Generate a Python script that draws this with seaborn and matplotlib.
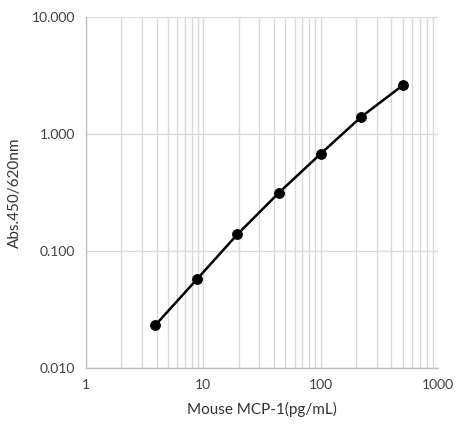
import matplotlib
matplotlib.use("Agg")
import matplotlib.pyplot as plt
import seaborn as sns
import pandas as pd
from matplotlib.ticker import FixedLocator, LogLocator, NullFormatter, FixedFormatter

concentration = [3.9, 8.8, 19.5, 44, 100, 222, 500]
absorbance = [0.0233, 0.0573, 0.139, 0.315, 0.679, 1.406, 2.61]
x_ticks = [1, 10, 100, 1000]
x_tick_labels = ["1", "10", "100", "1000"]
y_ticks = [0.01, 0.1, 1, 10]
y_tick_labels = ["0.010", "0.100", "1.000", "10.000"]

sns.set_theme(style="white")
plt.rcParams['font.family'] = ['Lato', 'DejaVu Sans']

df = pd.DataFrame({"x": concentration, "y": absorbance})

fig = plt.figure(figsize=(4.6, 4.3), dpi=100)
ax = fig.add_axes([0.187, 0.144, 0.765, 0.816])

sns.lineplot(data=df, x="x", y="y", ax=ax, color="black", linewidth=1.8,
             marker="o", markersize=7, markeredgecolor="black", zorder=3)

ax.set_xscale("log")
ax.set_yscale("log")
ax.set_xlim(1, 1000)
ax.set_ylim(0.01, 10)

ax.xaxis.set_major_locator(FixedLocator(x_ticks))
ax.xaxis.set_major_formatter(FixedFormatter(x_tick_labels))
ax.xaxis.set_minor_locator(LogLocator(base=10, subs=range(2, 10)))
ax.xaxis.set_minor_formatter(NullFormatter())
ax.yaxis.set_major_locator(FixedLocator(y_ticks))
ax.yaxis.set_major_formatter(FixedFormatter(y_tick_labels))
ax.yaxis.set_minor_locator(FixedLocator([]))

grid_color = "#d9d9d9"
ax.grid(True, which="major", axis="both", color=grid_color, linewidth=1.0)
ax.grid(True, which="minor", axis="x", color=grid_color, linewidth=1.0)
ax.set_axisbelow(True)

for side in ["top", "right"]:
    ax.spines[side].set_visible(False)
for side in ["left", "bottom"]:
    ax.spines[side].set_color("#bfbfbf")
    ax.spines[side].set_linewidth(1.0)

ax.tick_params(axis="both", which="both", length=0, labelsize=10, colors="#404040", pad=8)
for lab in ax.get_xticklabels() + ax.get_yticklabels():
    lab.set_color("#404040")

ax.set_xlabel("Mouse MCP-1(pg/mL)", fontsize=11, color="#333333", labelpad=8)
ax.set_ylabel("Abs.450/620nm", fontsize=11, color="#333333", labelpad=7)

fig.savefig("out.png", dpi=100, facecolor="white")
